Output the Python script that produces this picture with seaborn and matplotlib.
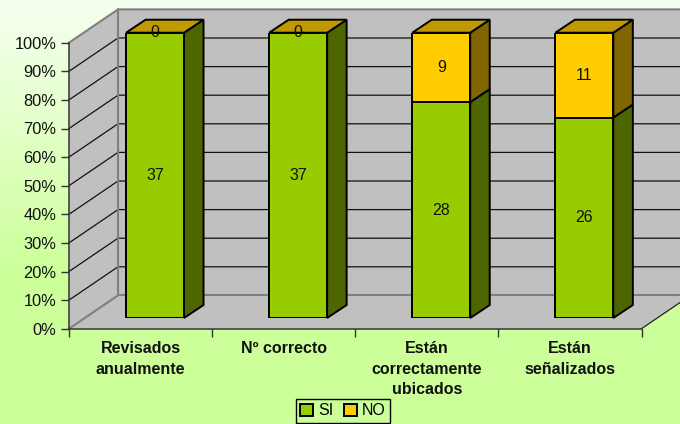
import numpy as np
import pandas as pd
import matplotlib
matplotlib.use("Agg")
import matplotlib.pyplot as plt
from matplotlib.patches import Polygon, Patch
import seaborn as sns

categories = ["Revisados\nanualmente", "Nº correcto", "Están\ncorrectamente\nubicados", "Están\nseñalizados"]
si_values = [37, 37, 28, 26]
no_values = [0, 0, 9, 11]
pct_ticks = [0, 10, 20, 30, 40, 50, 60, 70, 80, 90, 100]

W, H = 680, 424
FONT = "Liberation Sans"

plt.rcParams["font.family"] = [FONT, "DejaVu Sans"]


def px_axes(fig, x0, y_top, x1, y_bottom, **kw):
    # axes placed from pixel corners, y counted from the top of the image
    return fig.add_axes([x0 / W, 1 - y_bottom / H, (x1 - x0) / W, (y_bottom - y_top) / H], **kw)


df = pd.DataFrame({"cat": categories, "si": si_values, "no": no_values})
df["total"] = df["si"] + df["no"]
df["si_pct"] = df["si"] / df["total"] * 100
df["top_pct"] = 100.0

fig = plt.figure(figsize=(W / 100, H / 100), dpi=100)

# background gradient
bg = fig.add_axes([0, 0, 1, 1])
grad = np.clip(np.linspace(0, 1.55, 256), 0, 1)[:, None, None]
top_col = np.array([0.965, 1.0, 0.945])
bot_col = np.array([0.80, 1.0, 0.60])
bg.imshow(top_col + (bot_col - top_col) * grad, aspect="auto", extent=[0, 1, 0, 1])
bg.axis("off")

# front plane of the chart, carries the real axes
ax = px_axes(fig, 69, 42.7, 641.5, 328.7)
ax.set_facecolor("none")
ax.set_xlim(-0.5, 3.5)
ax.set_ylim(0, 100)
for s in ["top", "right"]:
    ax.spines[s].set_visible(False)
for s in ["left", "bottom"]:
    ax.spines[s].set_color("#333333")
    ax.spines[s].set_linewidth(1.1)

# depth of the walls in data units
wall_dx = 49 / 143.1
wall_dy = 33.3 / 286 * 100
x0, x1 = -0.5, 3.5
wall = "#C0C0C0"
edge = "#808080"
ax.add_patch(Polygon([(x0, 0), (x0 + wall_dx, wall_dy), (x0 + wall_dx, 100 + wall_dy), (x0, 100)],
                     fc=wall, ec="none", clip_on=False, zorder=0))
ax.add_patch(Polygon([(x0 + wall_dx, wall_dy), (x1 + wall_dx, wall_dy), (x1 + wall_dx, 100 + wall_dy), (x0 + wall_dx, 100 + wall_dy)],
                     fc=wall, ec="none", clip_on=False, zorder=0))
ax.add_patch(Polygon([(x0, 0), (x1, 0), (x1 + wall_dx, wall_dy), (x0 + wall_dx, wall_dy)],
                     fc=wall, ec="none", clip_on=False, zorder=0))
for p in pct_ticks[1:-1]:
    ax.plot([x0, x0 + wall_dx, x1 + wall_dx], [p, p + wall_dy, p + wall_dy],
            color="#111111", lw=0.9, clip_on=False, zorder=1)
ax.plot([x0, x0 + wall_dx, x0 + wall_dx], [0, wall_dy, 100 + wall_dy], color=edge, lw=1.5, clip_on=False, zorder=1)
ax.plot([x0, x0 + wall_dx, x1 + wall_dx], [100, 100 + wall_dy, 100 + wall_dy], color=edge, lw=1.5, clip_on=False, zorder=1)
ax.plot([x0 + wall_dx, x1 + wall_dx], [wall_dy, wall_dy], color=edge, lw=1.5, clip_on=False, zorder=1)
ax.plot([x1, x1 + wall_dx], [0, wall_dy], color="#222222", lw=0.9, clip_on=False, zorder=1)

ax.set_yticks(pct_ticks)
ax.set_yticklabels([f"{p}%" for p in pct_ticks], fontsize=11.8, color="#111111")
ax.set_xticks(np.arange(-0.5, 4, 1))
ax.set_xticklabels([])
ax.set_xticks(range(4), minor=True)
ax.set_xticklabels(categories, minor=True, fontsize=11.5, fontweight="bold", linespacing=1.47, color="#111111")
ax.tick_params(axis="x", which="minor", length=0, pad=9)
ax.tick_params(axis="both", which="major", length=6, width=1, color="#333333")
ax.tick_params(axis="y", pad=3)

# plane of the bars, a bit in front of the back wall
bx = px_axes(fig, 83.5, 32.7, 655.9, 318)
bx.set_facecolor("none")
sns.barplot(data=df, x="cat", y="top_pct", order=categories, color="#FFCC00", saturation=1,
            width=0.405, errorbar=None, edgecolor="black", linewidth=1.4, ax=bx, zorder=3)
n_top = len(bx.patches)
sns.barplot(data=df, x="cat", y="si_pct", order=categories, color="#99CC00", saturation=1,
            width=0.405, errorbar=None, edgecolor="black", linewidth=1.4, ax=bx, zorder=4)
bx.set_ylim(0, 100)
bx.set_xlim(-0.5, 3.5)
bx.axis("off")

dx = 19.5 / 143.1
dy = 13 / 285.3 * 100
top_bars = bx.patches[:n_top]
si_bars = bx.patches[n_top:]
for tb, sb, si, no in zip(top_bars, si_bars, si_values, no_values):
    xr = tb.get_x() + tb.get_width()
    xl = tb.get_x()
    ys = sb.get_height()
    bx.add_patch(Polygon([(xr, 0), (xr + dx, dy), (xr + dx, ys + dy), (xr, ys)],
                         fc="#4D6600", ec="black", lw=1.4, clip_on=False, zorder=3))
    if no > 0:
        bx.add_patch(Polygon([(xr, ys), (xr + dx, ys + dy), (xr + dx, 100 + dy), (xr, 100)],
                             fc="#806600", ec="black", lw=1.4, clip_on=False, zorder=3))
    bx.add_patch(Polygon([(xl, 100), (xl + dx, 100 + dy), (xr + dx, 100 + dy), (xr, 100)],
                         fc="#C09900", ec="black", lw=1.4, clip_on=False, zorder=3))
    xc = xl + tb.get_width() / 2
    bx.text(xc, ys / 2, str(si), ha="center", va="center", fontsize=11.5, color="#111111", zorder=6)
    bx.text(xc, ys + (100 - ys) / 2, str(no), ha="center", va="center", fontsize=11.5, color="#111111", zorder=6, clip_on=False)

handles = [Patch(fc="#99CC00", ec="black", lw=1.4, label="SI"),
           Patch(fc="#FFCC00", ec="black", lw=1.4, label="NO")]
leg = fig.legend(handles=handles, ncol=2, loc="lower center", bbox_to_anchor=(343 / W, 0.0),
                 fontsize=11.5, frameon=True, fancybox=False, edgecolor="black", facecolor="#CCFF99",
                 framealpha=1, handlelength=0.8, handleheight=0.8, handletextpad=0.3, columnspacing=0.7,
                 borderpad=0.3, borderaxespad=0.05)
leg.get_frame().set_linewidth(1)

fig.savefig("out.png", dpi=100)
